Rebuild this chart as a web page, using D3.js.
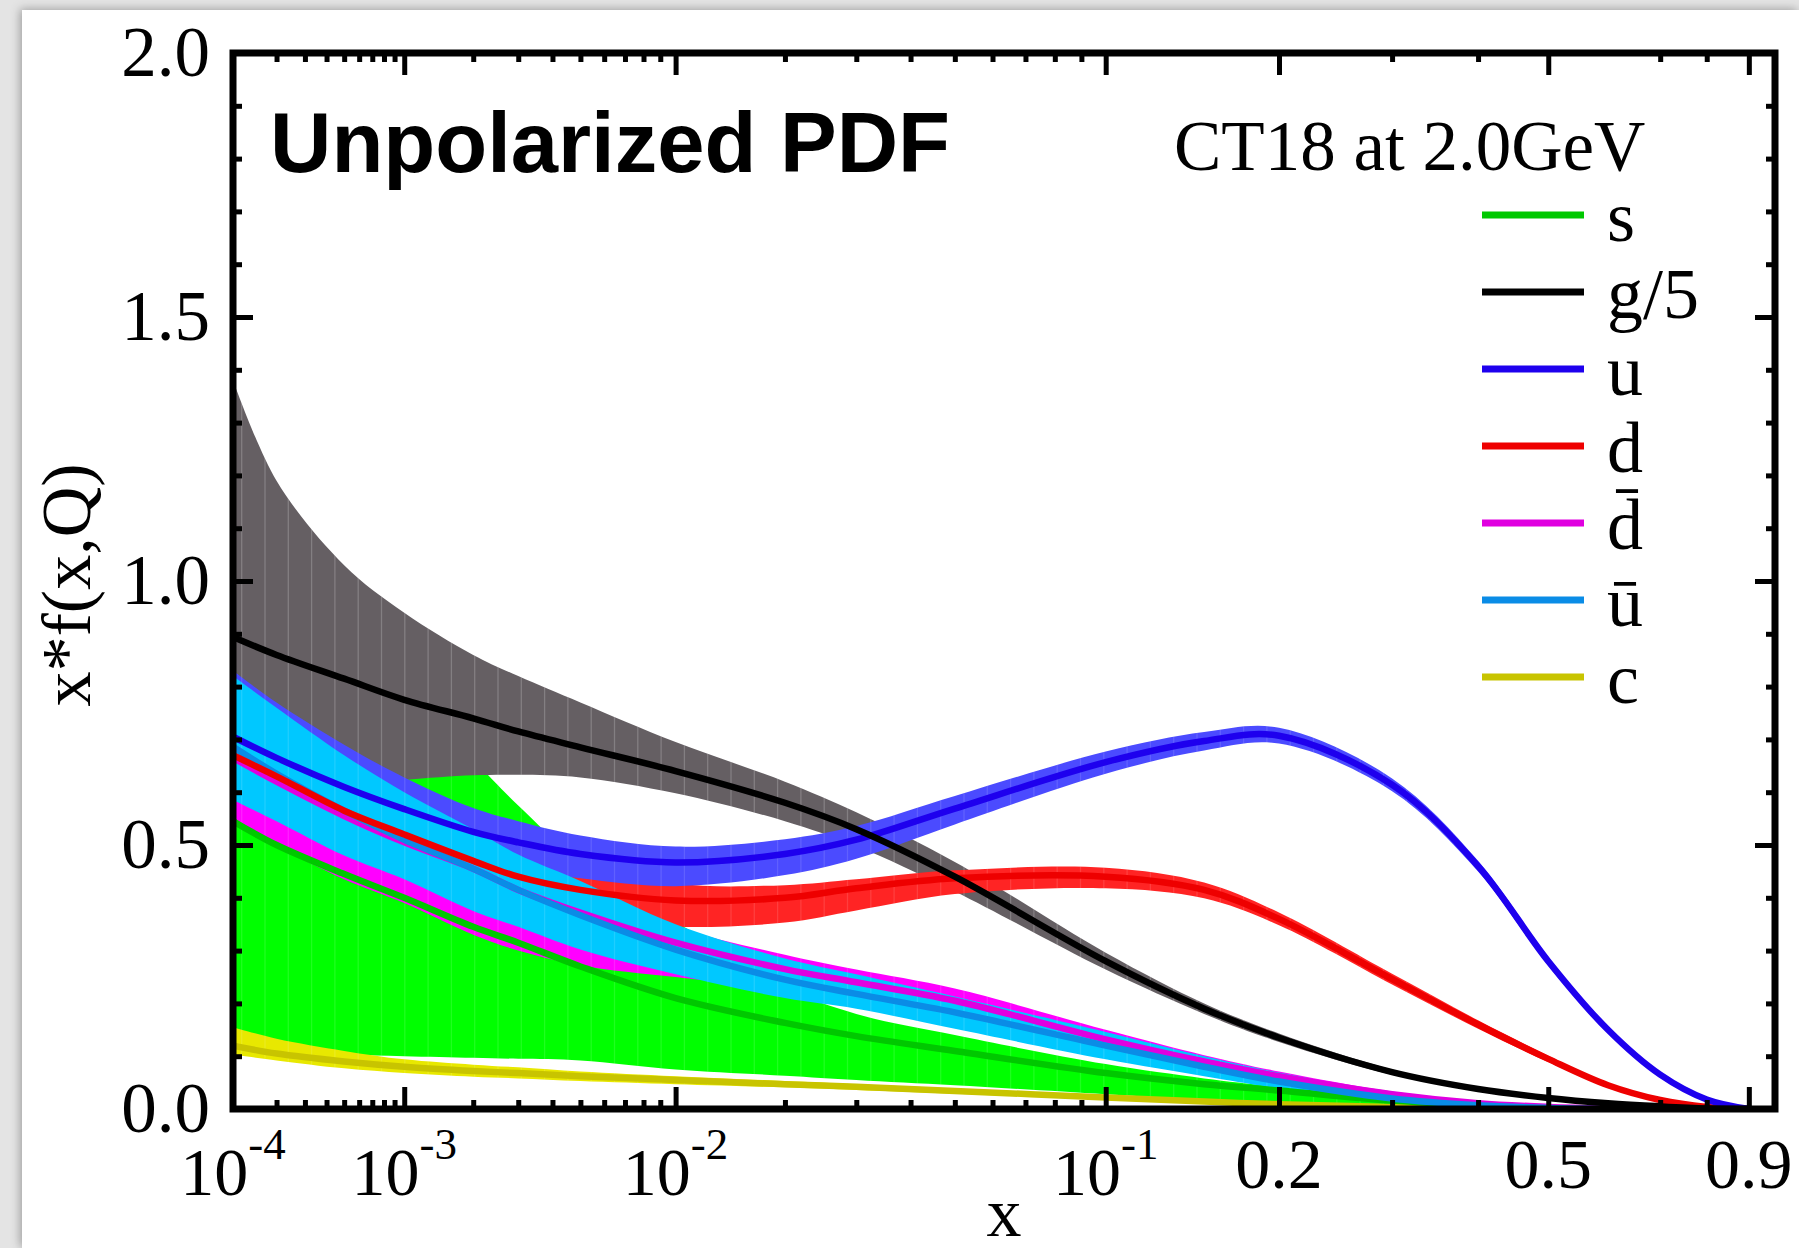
<!DOCTYPE html>
<html>
<head>
<meta charset="utf-8">
<script src="https://cdn.jsdelivr.net/npm/d3@7"></script>
<style>
html, body { margin: 0; padding: 0; background: #e4e4e4; overflow: hidden; }
svg { display: block; }
</style>
</head>
<body>
<script>
// x grid shared by every series
var xs = [1e-4, 2e-4, 5e-4, 1e-3, 2e-3, 3e-3, 5e-3, 1e-2, 2e-2, 3e-2, 5e-2, 0.1, 0.15, 0.2, 0.3, 0.4, 0.5, 0.6, 0.7, 0.8, 0.9];

// g/5
var gMid = [0.894, 0.86, 0.815, 0.775, 0.74, 0.715, 0.685, 0.64, 0.58, 0.53, 0.44, 0.28, 0.19, 0.135, 0.07, 0.038, 0.021, 0.011, 0.005, 0.001, 0];
var gHi  = [1.38, 1.19, 1.03, 0.94, 0.86, 0.82, 0.77, 0.695, 0.62, 0.562, 0.468, 0.296, 0.2, 0.143, 0.075, 0.041, 0.023, 0.012, 0.006, 0.0015, 0];
var gLo  = [0.56, 0.585, 0.61, 0.623, 0.632, 0.633, 0.628, 0.598, 0.545, 0.498, 0.412, 0.264, 0.18, 0.127, 0.065, 0.035, 0.019, 0.01, 0.004, 0.0005, 0];
// s
var sMid = [0.545, 0.5, 0.445, 0.4, 0.345, 0.315, 0.27, 0.21, 0.163, 0.138, 0.11, 0.068, 0.047, 0.035, 0.016, 0.007, 0.002, 0.0005, 0, 0, 0];
var sHi  = [1.3, 1.1, 0.9, 0.78, 0.66, 0.575, 0.468, 0.355, 0.23, 0.18, 0.14, 0.085, 0.058, 0.042, 0.02, 0.008, 0.003, 0.001, 0, 0, 0];
var sLo  = [0.15, 0.118, 0.104, 0.1, 0.097, 0.095, 0.092, 0.075, 0.063, 0.055, 0.045, 0.028, 0.017, 0.01, 0.004, 0.001, 0, 0, 0, 0, 0];
// u
var uMid = [0.705, 0.665, 0.61, 0.568, 0.525, 0.505, 0.483, 0.467, 0.483, 0.51, 0.569, 0.657, 0.697, 0.707, 0.614, 0.46, 0.28, 0.15, 0.065, 0.018, 0];
var uHi  = [0.83, 0.77, 0.69, 0.628, 0.57, 0.545, 0.518, 0.497, 0.511, 0.536, 0.593, 0.677, 0.714, 0.722, 0.626, 0.47, 0.288, 0.156, 0.069, 0.02, 0];
var uLo  = [0.615, 0.585, 0.545, 0.513, 0.475, 0.457, 0.437, 0.422, 0.443, 0.474, 0.539, 0.635, 0.679, 0.692, 0.602, 0.45, 0.272, 0.144, 0.061, 0.016, 0];
// d
var dMid = [0.67, 0.63, 0.565, 0.52, 0.47, 0.44, 0.415, 0.395, 0.4, 0.418, 0.437, 0.44, 0.415, 0.36, 0.246, 0.16, 0.095, 0.045, 0.017, 0.004, 0];
var dHi  = [0.79, 0.74, 0.66, 0.605, 0.545, 0.505, 0.47, 0.427, 0.424, 0.435, 0.452, 0.457, 0.429, 0.372, 0.256, 0.168, 0.101, 0.049, 0.019, 0.005, 0];
var dLo  = [0.57, 0.54, 0.49, 0.455, 0.41, 0.382, 0.36, 0.345, 0.353, 0.376, 0.407, 0.418, 0.399, 0.348, 0.236, 0.152, 0.089, 0.041, 0.015, 0.003, 0];
// dbar
var dbMid = [0.665, 0.62, 0.555, 0.505, 0.455, 0.415, 0.372, 0.315, 0.265, 0.24, 0.205, 0.132, 0.09, 0.062, 0.028, 0.011, 0.004, 0.001, 0, 0, 0];
var dbHi  = [0.76, 0.71, 0.63, 0.57, 0.51, 0.468, 0.422, 0.345, 0.292, 0.264, 0.228, 0.15, 0.102, 0.071, 0.033, 0.014, 0.005, 0.001, 0, 0, 0];
var dbLo  = [0.553, 0.5, 0.435, 0.39, 0.33, 0.3, 0.272, 0.25, 0.228, 0.212, 0.18, 0.113, 0.075, 0.05, 0.02, 0.007, 0.002, 0, 0, 0, 0];
// ubar
var ubMid = [0.686, 0.635, 0.565, 0.51, 0.455, 0.415, 0.367, 0.302, 0.245, 0.218, 0.183, 0.12, 0.08, 0.052, 0.02, 0.007, 0.002, 0, 0, 0, 0];
var ubHi  = [0.82, 0.76, 0.67, 0.6, 0.53, 0.482, 0.432, 0.35, 0.285, 0.255, 0.213, 0.146, 0.1, 0.069, 0.03, 0.012, 0.004, 0.001, 0, 0, 0];
var ubLo  = [0.585, 0.545, 0.48, 0.435, 0.375, 0.345, 0.302, 0.255, 0.21, 0.19, 0.152, 0.094, 0.062, 0.039, 0.013, 0.004, 0.001, 0, 0, 0, 0];
// c
var cMid = [0.12, 0.105, 0.09, 0.08, 0.072, 0.068, 0.062, 0.055, 0.047, 0.042, 0.034, 0.022, 0.014, 0.009, 0.004, 0.0015, 0.0005, 0, 0, 0, 0];
var cHi  = [0.155, 0.133, 0.11, 0.094, 0.084, 0.079, 0.071, 0.062, 0.053, 0.047, 0.039, 0.026, 0.017, 0.011, 0.005, 0.002, 0.001, 0, 0, 0, 0];
var cLo  = [0.103, 0.092, 0.077, 0.068, 0.061, 0.058, 0.053, 0.047, 0.041, 0.036, 0.029, 0.018, 0.011, 0.007, 0.003, 0.001, 0, 0, 0, 0, 0];

// legend / colours
var legendLabels = ["s", "g/5", "u", "d", "d\u0304", "u\u0304", "c"];
var seriesKeys   = ["s", "g", "u", "d", "db", "ub", "c"];
var bandColours  = ["#00ff00", "#655f63", "#4b4bff", "#ff2424", "#ff00ff", "#00c8ff", "#e8e800"];
var lineColours  = ["#00c800", "#000000", "#1e00ee", "#ee0000", "#e000e0", "#0a8ce6", "#c8c400"];

// ticks
var yMajor = [0, 0.5, 1.0, 1.5, 2.0];
var yMinor = d3.range(1, 20).map(function(i) { return i / 10; });
var xMajor = [1e-4, 1e-3, 1e-2, 0.1, 0.2, 0.5, 0.9];
var xMinor = [2e-4, 3e-4, 4e-4, 5e-4, 6e-4, 7e-4, 8e-4, 9e-4,
              2e-3, 3e-3, 4e-3, 5e-3, 6e-3, 7e-3, 8e-3, 9e-3,
              2e-2, 3e-2, 4e-2, 5e-2, 6e-2, 7e-2, 8e-2, 9e-2,
              0.3, 0.4, 0.7, 0.8];
var xTickLabels = ["10^-4", "10^-3", "10^-2", "10^-1", "0.2", "0.5", "0.9"];

///////////////Layout
var svgWidth = 1799, svgHeight = 1248;
var plotLeft = 233, plotRight = 1775, plotTop = 53, plotBottom = 1109;
var xMax = 0.967;
var serif = "'Liberation Serif', 'Times New Roman', serif";

var svg = d3.select("body").append("svg")
    .attr("width", svgWidth)
    .attr("height", svgHeight);
var defs = svg.append("defs");

var shadow = defs.append("filter").attr("id", "shadow")
    .attr("x", "-5%").attr("y", "-5%").attr("width", "110%").attr("height", "110%");
shadow.append("feDropShadow")
    .attr("dx", -2).attr("dy", -1).attr("stdDeviation", 5)
    .attr("flood-color", "#000").attr("flood-opacity", 0.3);

svg.append("rect").attr("width", svgWidth).attr("height", svgHeight).attr("fill", "#e4e4e4");
svg.append("rect")
    .attr("x", 22).attr("y", 10)
    .attr("width", svgWidth - 22).attr("height", svgHeight - 10)
    .attr("fill", "#ffffff")
    .attr("filter", "url(#shadow)");

var x = d3.scalePow().exponent(0.2).domain([1e-4, xMax]).range([plotLeft, plotRight]);
var y = d3.scaleLinear().domain([0, 2]).range([plotBottom, plotTop]);

defs.append("clipPath").attr("id", "plotClip").append("rect")
    .attr("x", plotLeft).attr("y", plotTop)
    .attr("width", plotRight - plotLeft).attr("height", plotBottom - plotTop);

var seriesData = {
    s:  { mid: sMid,  hi: sHi,  lo: sLo },
    g:  { mid: gMid,  hi: gHi,  lo: gLo },
    u:  { mid: uMid,  hi: uHi,  lo: uLo },
    d:  { mid: dMid,  hi: dHi,  lo: dLo },
    db: { mid: dbMid, hi: dbHi, lo: dbLo },
    ub: { mid: ubMid, hi: ubHi, lo: ubLo },
    c:  { mid: cMid,  hi: cHi,  lo: cLo }
};
seriesKeys.forEach(function(k, i) {
    seriesData[k].band = bandColours[i];
    seriesData[k].line = lineColours[i];
});

var smooth = d3.curveCatmullRom.alpha(0.5);
var area = d3.area()
    .x(function(d) { return x(d.x); })
    .y0(function(d) { return y(d.lo); })
    .y1(function(d) { return y(d.hi); })
    .curve(smooth);
var line = d3.line()
    .x(function(d) { return x(d.x); })
    .y(function(d) { return y(d.v); })
    .curve(smooth);

var plotArea = svg.append("g").attr("clip-path", "url(#plotClip)");

// faint vertical seams inside the error bands
var seamXs = d3.range(plotLeft + 8.7, plotRight, 23.3);

//bands
var bandOrder = ["s", "g", "d", "u", "db", "ub", "c"];
bandOrder.forEach(function(k) {
    var sd = seriesData[k];
    var pts = xs.map(function(xv, i) { return { x: xv, lo: sd.lo[i], hi: sd.hi[i] }; });
    var pathD = area(pts);
    defs.append("clipPath").attr("id", "band-" + k).append("path").attr("d", pathD);
    plotArea.append("path").attr("d", pathD).attr("fill", sd.band);
    plotArea.append("g")
        .attr("clip-path", "url(#band-" + k + ")")
        .selectAll("line").data(seamXs).join("line")
        .attr("x1", function(d) { return d; })
        .attr("x2", function(d) { return d; })
        .attr("y1", plotTop).attr("y2", plotBottom)
        .attr("stroke", "#ffffff").attr("stroke-opacity", k === "g" ? 0.2 : 0.12)
        .attr("stroke-width", 1.3);
});

//central lines
var lineOrder = ["c", "s", "db", "ub", "d", "u", "g"];
lineOrder.forEach(function(k) {
    var sd = seriesData[k];
    var pts = xs.map(function(xv, i) { return { x: xv, v: sd.mid[i] }; });
    plotArea.append("path")
        .attr("d", line(pts))
        .attr("fill", "none")
        .attr("stroke", sd.line)
        .attr("stroke-width", 6.5);
});

//ticks
function styleTicks(g) {
    g.select(".domain").remove();
    g.selectAll("text").remove();
    g.selectAll(".tick line").attr("stroke", "#000").attr("stroke-width", 5);
}
svg.append("g").attr("transform", "translate(0," + plotBottom + ")")
    .call(d3.axisBottom(x).tickValues(xMajor).tickSizeInner(-22).tickSizeOuter(0)).call(styleTicks);
svg.append("g").attr("transform", "translate(0," + plotBottom + ")")
    .call(d3.axisBottom(x).tickValues(xMinor).tickSizeInner(-9).tickSizeOuter(0)).call(styleTicks);
svg.append("g").attr("transform", "translate(0," + plotTop + ")")
    .call(d3.axisTop(x).tickValues(xMajor).tickSizeInner(-22).tickSizeOuter(0)).call(styleTicks);
svg.append("g").attr("transform", "translate(0," + plotTop + ")")
    .call(d3.axisTop(x).tickValues(xMinor).tickSizeInner(-9).tickSizeOuter(0)).call(styleTicks);
svg.append("g").attr("transform", "translate(" + plotLeft + ",0)")
    .call(d3.axisLeft(y).tickValues(yMajor).tickSizeInner(-20).tickSizeOuter(0)).call(styleTicks);
svg.append("g").attr("transform", "translate(" + plotLeft + ",0)")
    .call(d3.axisLeft(y).tickValues(yMinor).tickSizeInner(-9).tickSizeOuter(0)).call(styleTicks);
svg.append("g").attr("transform", "translate(" + plotRight + ",0)")
    .call(d3.axisRight(y).tickValues(yMajor).tickSizeInner(-20).tickSizeOuter(0)).call(styleTicks);
svg.append("g").attr("transform", "translate(" + plotRight + ",0)")
    .call(d3.axisRight(y).tickValues(yMinor).tickSizeInner(-9).tickSizeOuter(0)).call(styleTicks);

//frame
svg.append("rect")
    .attr("x", plotLeft).attr("y", plotTop)
    .attr("width", plotRight - plotLeft).attr("height", plotBottom - plotTop)
    .attr("fill", "none").attr("stroke", "#000").attr("stroke-width", 7);

//y tick labels
var yLabels = svg.append("g").attr("transform", "translate(" + plotLeft + ",0)")
    .call(d3.axisLeft(y).tickValues(yMajor).tickFormat(d3.format(".1f")).tickSize(0).tickPadding(23));
yLabels.select(".domain").remove();
yLabels.selectAll("text")
    .attr("font-family", serif).attr("font-size", 71).attr("fill", "#000");

//x tick labels
var xLabelGroup = svg.append("g");
xMajor.forEach(function(v, i) {
    var parts = xTickLabels[i].split("^");
    var t = xLabelGroup.append("text")
        .attr("x", x(v))
        .attr("y", parts.length > 1 ? 1195 : 1188)
        .attr("text-anchor", "middle")
        .attr("font-family", serif)
        .attr("font-size", parts.length > 1 ? 68 : 70)
        .attr("fill", "#000");
    t.append("tspan").text(parts[0]);
    if (parts.length > 1) {
        t.append("tspan").attr("dy", -36).attr("font-size", 45).text(parts[1]);
    }
});

//axis titles
svg.append("text")
    .attr("x", (plotLeft + plotRight) / 2).attr("y", 1236)
    .attr("text-anchor", "middle")
    .attr("font-family", serif).attr("font-size", 70)
    .text("x");
svg.append("text")
    .attr("transform", "translate(90," + 585 + ") rotate(-90)")
    .attr("text-anchor", "middle")
    .attr("font-family", serif).attr("font-size", 70)
    .text("x*f(x,Q)");

//titles
svg.append("text")
    .attr("x", 270).attr("y", 172)
    .attr("font-family", "'Liberation Sans', Arial, sans-serif")
    .attr("font-weight", "bold").attr("font-size", 85)
    .text("Unpolarized PDF");
svg.append("text")
    .attr("x", 1174).attr("y", 170)
    .attr("font-family", serif).attr("font-size", 71)
    .text("CT18 at 2.0GeV");

//legend
var legend = svg.append("g");
var legendTop = 215, legendStep = 77;
legendLabels.forEach(function(lab, i) {
    var ly = legendTop + i * legendStep;
    legend.append("line")
        .attr("x1", 1482).attr("x2", 1584)
        .attr("y1", ly).attr("y2", ly)
        .attr("stroke", lineColours[i]).attr("stroke-width", 7);
    legend.append("text")
        .attr("x", 1607).attr("y", ly + 26)
        .attr("font-family", serif).attr("font-size", 72)
        .text(lab);
});
</script>
</body>
</html>
